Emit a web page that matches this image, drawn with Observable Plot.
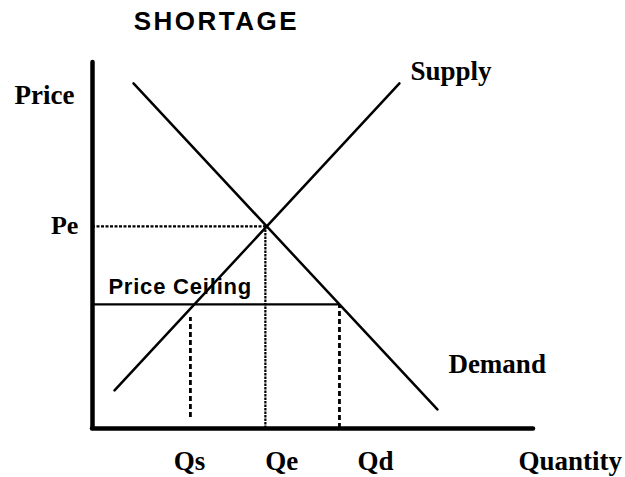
<!DOCTYPE html>
<html>
<head>
<meta charset="utf-8">
<script src="https://cdn.jsdelivr.net/npm/d3@7"></script>
<script src="https://cdn.jsdelivr.net/npm/@observablehq/plot@0.6"></script>
<style>
  html, body { margin: 0; padding: 0; background: #fff; }
</style>
</head>
<body>
<div id="chart"></div>
<script>
// Curves (quantity, price) endpoints
const demandQ = [9.3, 78.2];
const demandP = [94.3, 5.2];
const supplyQ = [5.0, 69.6];
const supplyP = [10.4, 94.3];

// Key levels
const Pe = 55.2;
const Qe = 39.2;
const ceilingP = 33.9;
const ceilingQEnd = 56.0;
const Qs = 22.2;
const Qd = 56.0;
const QsSpan = [3.0, 30.3];

// Text labels
const labelText = ["SHORTAGE", "Price", "Pe", "Price Ceiling", "Supply", "Demand", "Qs", "Qe", "Qd", "Quantity"];
const labelQ = [28.1, -17.7, -3.2, 3.6, 72.1, 80.7, 22.0, 42.9, 64.2, 96.6];
const labelP = [111.1, 91.0, 55.5, 38.8, 97.5, 17.5, -9.0, -9.0, -9.0, -9.0];

const demand = demandQ.map((q, i) => ({q, p: demandP[i]}));
const supply = supplyQ.map((q, i) => ({q, p: supplyP[i]}));
const labels = labelText.map((t, i) => ({t, q: labelQ[i], p: labelP[i]}));

const serif = "'Liberation Serif', 'DejaVu Serif', serif";
const sans = "'Liberation Sans', Arial, sans-serif";

const chart = Plot.plot({
  width: 625,
  height: 477,
  marginLeft: 92,
  marginRight: 92,
  marginTop: 62,
  marginBottom: 49,
  x: {domain: [0, 100], axis: null},
  y: {domain: [0, 100], axis: null},
  style: {background: "#fff", overflow: "visible"},
  marks: [
    // dashed guides
    Plot.ruleY([Pe], {x1: 0, x2: Qe, stroke: "black", strokeWidth: 2.2, strokeDasharray: "3,1.5"}),
    Plot.ruleX([Qe], {y1: 0, y2: Pe, stroke: "black", strokeWidth: 2.2, strokeDasharray: "2.5,1"}),
    Plot.ruleX([Qs], {y1: QsSpan[0], y2: QsSpan[1], stroke: "black", strokeWidth: 2.8, strokeDasharray: "5,3"}),
    Plot.ruleX([Qd], {y1: 0, y2: ceilingP, stroke: "black", strokeWidth: 2.8, strokeDasharray: "5,3"}),
    // price ceiling
    Plot.ruleY([ceilingP], {x1: 0, x2: ceilingQEnd, stroke: "black", strokeWidth: 2.2}),
    // curves
    Plot.line(demand, {x: "q", y: "p", stroke: "black", strokeWidth: 2.5}),
    Plot.line(supply, {x: "q", y: "p", stroke: "black", strokeWidth: 2.5}),
    // axes
    Plot.ruleX([0], {y1: 0, y2: 100, stroke: "black", strokeWidth: 4.5, strokeLinecap: "round"}),
    Plot.ruleY([0], {x1: 0, x2: 100, stroke: "black", strokeWidth: 4.5, strokeLinecap: "round"}),
    // labels
    Plot.text(labels.filter(d => d.t === "SHORTAGE"), {x: "q", y: "p", text: "t", fontFamily: sans, fontWeight: "bold", fontSize: 26, fill: "black"}),
    Plot.text(labels.filter(d => d.t === "Price Ceiling"), {x: "q", y: "p", text: "t", textAnchor: "start", fontFamily: sans, fontWeight: "bold", fontSize: 22, fill: "black"}),
    Plot.text(labels.filter(d => d.t === "Pe"), {x: "q", y: "p", text: "t", textAnchor: "end", fontFamily: serif, fontWeight: "bold", fontSize: 26, fill: "black"}),
    Plot.text(labels.filter(d => ["Price", "Supply", "Demand", "Quantity"].includes(d.t)), {x: "q", y: "p", text: "t", textAnchor: "start", fontFamily: serif, fontWeight: "bold", fontSize: 27, fill: "black"}),
    Plot.text(labels.filter(d => ["Qs", "Qe", "Qd"].includes(d.t)), {x: "q", y: "p", text: "t", fontFamily: serif, fontWeight: "bold", fontSize: 27, fill: "black"})
  ]
});
// letter spacing for the sans-serif labels
d3.select(chart).selectAll("text").each(function() {
  const t = this.textContent;
  if (t === "SHORTAGE") this.setAttribute("letter-spacing", "2.5");
  if (t === "Price Ceiling") this.setAttribute("letter-spacing", "0.8");
});
document.getElementById("chart").appendChild(chart);
</script>
</body>
</html>
